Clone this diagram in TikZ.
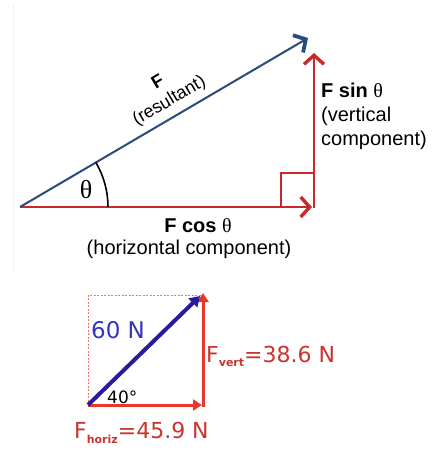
\documentclass[tikz,border=0pt]{standalone}
\usepackage{fontspec}
\setmainfont{Liberation Sans}
\newfontfamily\djv{DejaVu Sans}
\newfontfamily\tms{Liberation Serif}
\usetikzlibrary{arrows.meta}
\definecolor{topred}{HTML}{C9282C}
\definecolor{topblue}{HTML}{2B4A7C}
\definecolor{botred}{HTML}{E5372C}
\definecolor{botredtxt}{HTML}{C8342E}
\definecolor{botblue}{HTML}{2A1A9C}
\definecolor{txtblue}{HTML}{3535C0}
\tikzset{
  x=1pt, y=-1pt,
  redvec/.style={draw=topred, line width=2.6pt, -{Straight Barb[length=9pt,width=20pt,line width=3.4pt]}},
  bluevec/.style={draw=topblue, line width=2pt, -{Straight Barb[length=9pt,width=20pt,line width=3.8pt]}},
  lbl/.style={font=\fontsize{20}{24}\selectfont, inner sep=0pt},
  botvec/.style={draw=botred, line width=3pt, -{Triangle[length=9pt,width=11pt]}},
  bbvec/.style={draw=botblue, line width=4pt, -{Triangle[length=10pt,width=12pt]}},
  guide/.style={draw=botred!70, line width=0.8pt, dash pattern=on 2pt off 1.5pt},
}
\begin{document}
\begin{tikzpicture}
\useasboundingbox (0,0) rectangle (447,453);
\fill[white] (0,0) rectangle (447,453);
\draw[gray!12, line width=0.8pt] (13,4) -- (13,272);
% top diagram
\coordinate (O) at (20,207);
\coordinate (H) at (312,207);
\coordinate (Vb) at (314,208.3);
\coordinate (Vt) at (314,53);
\coordinate (R) at (308,38);
\draw[redvec] (O) -- (H);
\draw[redvec] (Vb) -- (Vt);
\draw[bluevec] (O) -- (R);
\coordinate (Sq1) at (281,207);
\coordinate (Sq2) at (281,173);
\coordinate (Sq3) at (314,173);
\draw[topred, line width=1.8pt] (Sq1) -- (Sq2) -- (Sq3);
\draw[black, line width=1.6pt] ([shift={(0:88)}]O) arc[start angle=0, end angle=-30.5, radius=88];
\node[lbl, font=\tms\fontsize{26}{26}\selectfont] (th) at (86,190) {θ};
\node[lbl, font=\fontsize{18}{22}\selectfont, align=center, rotate=30.5] (res) at (164,92) {\textbf{F}\\(resultant)};
\node[lbl, anchor=west, align=left] (sin) at (321,116) {\textbf{F sin }{\tms θ}\\(vertical\\component)};
\node[lbl] (cos) at (198,226) {\textbf{F cos }{\tms θ}};
\node[lbl] (hc) at (189,249) {(horizontal component)};
% bottom diagram
\coordinate (P) at (88,405);
\coordinate (PT) at (88,295);
\coordinate (TR) at (203,295);
\coordinate (Q) at (203,405);
\draw[guide] (P) -- (PT) -- (TR);
\draw[botvec] (P) -- (202,405);
\draw[botvec] (203,406.5) -- (203,293);
\draw[bbvec] (P) -- (200,296);
\node[inner sep=0pt, text=txtblue, font=\djv\fontsize{23}{23}\selectfont, anchor=base west] (sixty) at (91,338) {60 N};
\node[inner sep=0pt, font=\djv\fontsize{17}{17}\selectfont, anchor=base west] (forty) at (107,403) {40°};
\node[inner sep=0pt, text=botredtxt, font=\djv\fontsize{22}{22}\selectfont, anchor=base west] (fv) at (206,362) {F\raisebox{-4pt}{\fontsize{11}{11}\selectfont\bfseries vert}=38.6 N};
\node[inner sep=0pt, text=botredtxt, font=\djv\fontsize{22}{22}\selectfont, anchor=base west] (fh) at (74,438) {F\raisebox{-5pt}{\fontsize{11}{11}\selectfont\bfseries horiz}=45.9 N};
\end{tikzpicture}
\end{document}
